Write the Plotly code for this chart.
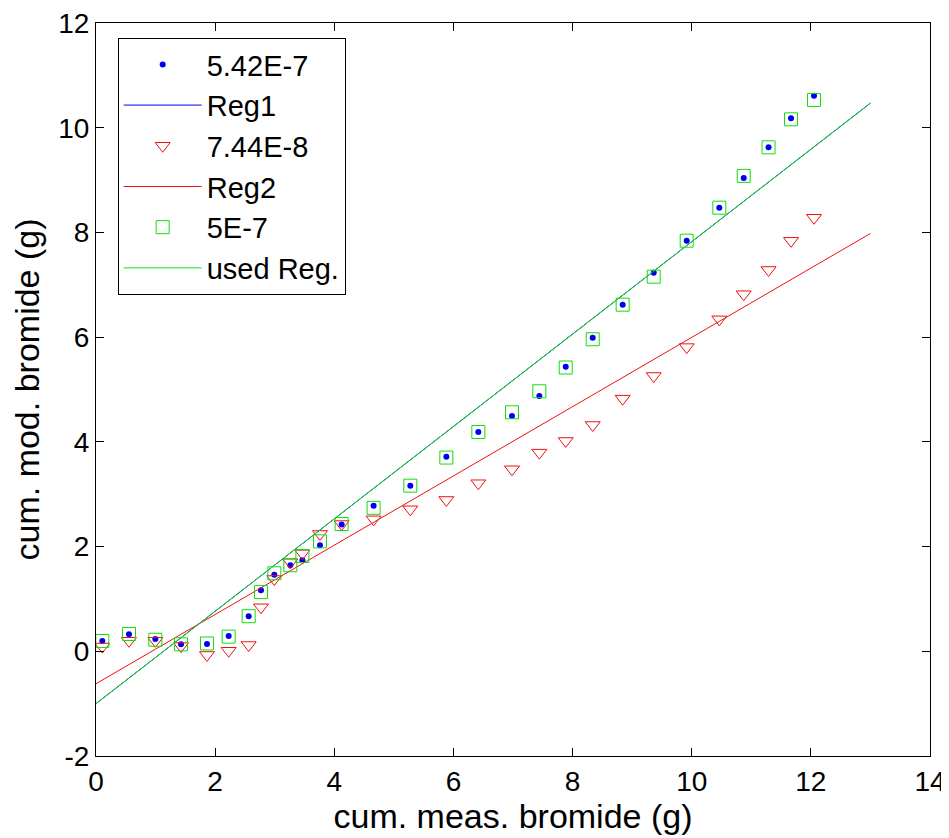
import plotly.graph_objects as go

# ---- data ----
x_meas = [0.106, 0.554, 0.996, 1.427, 1.863, 2.227, 2.563, 2.77, 2.993, 3.262,
          3.464, 3.76, 4.124, 4.66, 5.276, 5.881, 6.418, 6.983, 7.442, 7.885,
          8.338, 8.841, 9.362, 9.916, 10.463, 10.873, 11.29, 11.667, 12.053]

y_542e7 = [0.197, 0.325, 0.235, 0.134, 0.14, 0.29, 0.67, 1.165, 1.46, 1.643,
           1.74, 2.025, 2.42, 2.78, 3.163, 3.717, 4.189, 4.494, 4.876, 5.436,
           5.99, 6.62, 7.231, 7.842, 8.473, 9.04, 9.626, 10.18, 10.61]

y_744e8 = [0.09, 0.2, 0.2, 0.1, -0.07, 0.01, 0.12, 0.84, 1.38, 1.7,
           1.87, 2.24, 2.43, 2.52, 2.712, 2.89, 3.21, 3.476, 3.794, 4.017,
           4.322, 4.825, 5.258, 5.81, 6.34, 6.82, 7.283, 7.84, 8.28]

y_5e7 = [0.197, 0.33, 0.22, 0.134, 0.15, 0.28, 0.67, 1.13, 1.49, 1.643,
         1.82, 2.1, 2.43, 2.74, 3.163, 3.70, 4.189, 4.565, 4.966, 5.42,
         5.96, 6.62, 7.155, 7.842, 8.473, 9.08, 9.626, 10.16, 10.53]

reg_x = [0, 13]
reg1_y = [-1.0, 10.47]
reg2_y = [-0.62, 7.98]
used_y = [-1.0, 10.47]

x_ticks = [0, 2, 4, 6, 8, 10, 12, 14]
x_tick_labels = ["0", "2", "4", "6", "8", "10", "12", "14"]
y_ticks = [-2, 0, 2, 4, 6, 8, 10, 12]
y_tick_labels = ["-2", "0", "2", "4", "6", "8", "10", "12"]

BLUE = "#0000ee"
RED = "#ee1111"
GREEN = "#11dd11"

fig = go.Figure()
fig.add_trace(go.Scatter(x=x_meas, y=y_542e7, mode="markers", name="5.42E-7",
                         marker=dict(symbol="circle", size=6, color=BLUE)))
fig.add_trace(go.Scatter(x=reg_x, y=reg1_y, mode="lines", name="Reg1",
                         line=dict(color=BLUE, width=1)))
fig.add_trace(go.Scatter(x=x_meas, y=y_744e8, mode="markers", name="7.44E-8",
                         marker=dict(symbol="triangle-down-open", size=13,
                                     color=RED, line=dict(width=1, color=RED))))
fig.add_trace(go.Scatter(x=reg_x, y=reg2_y, mode="lines", name="Reg2",
                         line=dict(color=RED, width=1)))
fig.add_trace(go.Scatter(x=x_meas, y=y_5e7, mode="markers", name="5E-7",
                         marker=dict(symbol="square-open", size=13,
                                     color=GREEN, line=dict(width=1, color=GREEN))))
fig.add_trace(go.Scatter(x=reg_x, y=used_y, mode="lines", name="used Reg.",
                         line=dict(color=GREEN, width=1)))

font_family = "Liberation Sans, Arial, sans-serif"
axis_common = dict(showline=True, linecolor="black", linewidth=1, mirror="ticks",
                   ticks="inside", ticklen=8, tickcolor="black", tickwidth=1,
                   showgrid=False, zeroline=False, automargin=False,
                   ticklabeloverflow="allow",
                   tickfont=dict(size=28, color="black", family=font_family))

# the page body adds an 8px margin, so the figure is 941x830 and shifted
fig.update_layout(
    width=941, height=830,
    margin=dict(l=88, r=19, t=15, b=82),
    paper_bgcolor="white", plot_bgcolor="white",
    font=dict(family=font_family, color="black", size=28),
    xaxis=dict(range=[0, 14], tickmode="array", tickvals=x_ticks, ticktext=x_tick_labels,
               title=dict(text="cum. meas. bromide (g)", font=dict(size=34), standoff=0),
               **axis_common),
    yaxis=dict(range=[-2, 12], tickmode="array", tickvals=y_ticks, ticktext=y_tick_labels,
               title=dict(text="cum. mod. bromide (g)", font=dict(size=34), standoff=8),
               **axis_common),
    legend=dict(x=0.026, y=0.9795, xanchor="left", yanchor="top",
                bgcolor="white", bordercolor="black", borderwidth=1,
                font=dict(size=29, color="black", family=font_family),
                tracegroupgap=0, itemwidth=78),
    showlegend=True,
)

fig.write_html("out.html")
